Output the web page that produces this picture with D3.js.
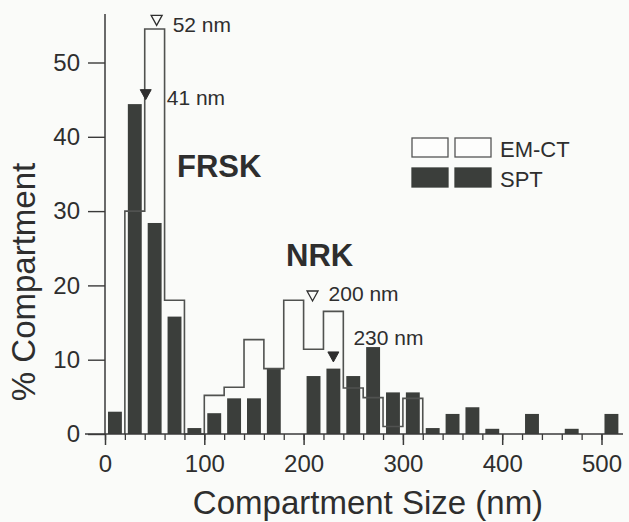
<!DOCTYPE html>
<html>
<head>
<meta charset="utf-8">
<script src="https://cdn.jsdelivr.net/npm/d3@7"></script>
<style>
  html, body { margin: 0; padding: 0; background: #fafbf9; }
  svg { display: block; }
  text { font-family: "Liberation Sans", Arial, Helvetica, sans-serif; fill: #2e2e2e; }
</style>
</head>
<body>
<svg id="chart" width="629" height="522"></svg>
<script>
// ---- data ----
const binStarts = [0, 20, 40, 60, 80, 100, 120, 140, 160, 180, 200, 220, 240, 260, 280, 300, 320, 340, 360, 380, 400, 420, 440, 460, 480, 500];
const binWidth = 20;
const emctValues = [0, 30, 54.5, 18, 0, 5.2, 6.3, 12.7, 8.8, 18, 11.4, 16.5, 6.2, 4.9, 1.0, 4.8, 0, 0, 0, 0, 0, 0, 0, 0, 0, 0];
const sptValues  = [3.0, 44.4, 28.4, 15.8, 0.8, 2.8, 4.8, 4.8, 8.8, 0, 7.8, 8.8, 7.8, 11.7, 5.6, 5.6, 0.8, 2.7, 3.6, 0.7, 0, 2.7, 0, 0.7, 0, 2.7];
const yTicks = [0, 10, 20, 30, 40, 50];
const xTicks = [0, 100, 200, 300, 400, 500];
const xMinorTicks = d3.range(0, 520, 20);
const markerX = [52, 41, 209, 230];
const markerY = [55.0, 45.0, 17.9, 9.7];
const markerLabels = ["52 nm", "41 nm", "200 nm", "230 nm"];
const markerOpen = [true, false, true, false];
const groupLabels = ["FRSK", "NRK"];
const legendLabels = ["EM-CT", "SPT"];

// ---- scales ----
const svg = d3.select("#chart");
const x = d3.scaleLinear().domain([0, 500]).range([105, 601.5]);
const y = d3.scaleLinear().domain([0, 50]).range([434, 62.5]);
const ink = "#3a3a3a";
const barFill = "#3b3e3b";

// ---- SPT bars ----
const barW = (x(binWidth) - x(0)) * 0.70;
svg.append("g").selectAll("rect")
  .data(binStarts.map((b, i) => ({b, v: sptValues[i]})).filter(d => d.v > 0))
  .join("rect")
  .attr("x", d => x(d.b + binWidth / 2) - barW / 2)
  .attr("width", barW)
  .attr("y", d => y(d.v))
  .attr("height", d => y(0) - y(d.v))
  .attr("fill", barFill);

// ---- EM-CT outline (step histogram) ----
const pts = [];
const firstIdx = emctValues.findIndex(v => v > 0);
let lastIdx = 0;
emctValues.forEach((v, i) => { if (v > 0) lastIdx = i; });
pts.push([binStarts[firstIdx], 0]);
for (let i = firstIdx; i <= lastIdx; i++) {
  pts.push([binStarts[i], emctValues[i]]);
  pts.push([binStarts[i] + binWidth, emctValues[i]]);
}
pts.push([binStarts[lastIdx] + binWidth, 0]);
svg.append("path")
  .attr("d", d3.line().x(d => x(d[0])).y(d => y(d[1]))(pts))
  .attr("fill", "none")
  .attr("stroke", "#505250")
  .attr("stroke-width", 1.6);

// ---- axes ----
const yAxis = d3.axisLeft(y).tickValues(yTicks).tickSize(17).tickPadding(8);
const gy = svg.append("g").attr("transform", `translate(${x(0)},0)`).call(yAxis);
gy.select(".domain").remove();
gy.selectAll(".tick line").attr("stroke", ink).attr("stroke-width", 1.4);
gy.selectAll(".tick text").style("font-size", "24px").attr("fill", "#2e2e2e")
  .style("font-family", "'Liberation Sans', Arial, sans-serif");
svg.append("line")
  .attr("x1", x(0)).attr("x2", x(0))
  .attr("y1", y(0)).attr("y2", 14)
  .attr("stroke", ink).attr("stroke-width", 1.5);

// x axis baseline
svg.append("line")
  .attr("x1", 85).attr("x2", 623)
  .attr("y1", y(0)).attr("y2", y(0))
  .attr("stroke", ink).attr("stroke-width", 1.5);
const gxMinor = svg.append("g").attr("transform", `translate(0,${y(0)})`)
  .call(d3.axisBottom(x).tickValues(xMinorTicks).tickSize(6).tickFormat(""));
gxMinor.select(".domain").remove();
gxMinor.selectAll(".tick line").attr("stroke", ink).attr("stroke-width", 1.3);
const gx = svg.append("g").attr("transform", `translate(0,${y(0)})`)
  .call(d3.axisBottom(x).tickValues(xTicks).tickSize(11).tickPadding(10).tickFormat(d3.format("d")));
gx.select(".domain").remove();
gx.selectAll(".tick line").attr("stroke", ink).attr("stroke-width", 1.5);
gx.selectAll(".tick text").style("font-size", "24px").attr("fill", "#2e2e2e")
  .style("font-family", "'Liberation Sans', Arial, sans-serif");

// axis titles
svg.append("text")
  .attr("x", 368).attr("y", 514)
  .attr("text-anchor", "middle")
  .style("font-size", "33px")
  .text("Compartment Size (nm)");
svg.append("text")
  .attr("transform", "translate(35,282) rotate(-90)")
  .attr("text-anchor", "middle")
  .style("font-size", "33px")
  .text("% Compartment");

// ---- markers ----
const tri = (cx, tipY, w, h) => `M${cx - w / 2},${tipY - h} L${cx + w / 2},${tipY - h} L${cx},${tipY} Z`;
markerX.forEach((mx, i) => {
  svg.append("path")
    .attr("d", tri(x(mx), y(markerY[i]), 11, 10))
    .attr("fill", markerOpen[i] ? "none" : "#2e2e2e")
    .attr("stroke", "#2e2e2e")
    .attr("stroke-width", markerOpen[i] ? 1.3 : 1);
});
const labelDX = [16, 21, 16, 20];
const labelDY = [7, 5, 0, -17];
markerLabels.forEach((t, i) => {
  svg.append("text")
    .attr("x", x(markerX[i]) + labelDX[i])
    .attr("y", y(markerY[i]) + labelDY[i])
    .style("font-size", "21px")
    .text(t);
});

// ---- group labels ----
svg.append("text").attr("x", 177).attr("y", 177)
  .style("font-size", "31px").style("font-weight", "bold").text(groupLabels[0]);
svg.append("text").attr("x", 286).attr("y", 266)
  .style("font-size", "31px").style("font-weight", "bold").text(groupLabels[1]);

// ---- legend ----
const legend = svg.append("g");
legendLabels.forEach((lab, i) => {
  const ly = 138 + i * 30;
  [412, 455].forEach(lx => {
    legend.append("rect")
      .attr("x", lx).attr("y", ly).attr("width", 36).attr("height", 19)
      .attr("fill", i === 0 ? "#fdfdfc" : barFill)
      .attr("stroke", i === 0 ? "#555" : barFill)
      .attr("stroke-width", 1.3);
  });
  legend.append("text").attr("x", 500).attr("y", ly + 19)
    .style("font-size", "22px").text(lab);
});
</script>
</body>
</html>
